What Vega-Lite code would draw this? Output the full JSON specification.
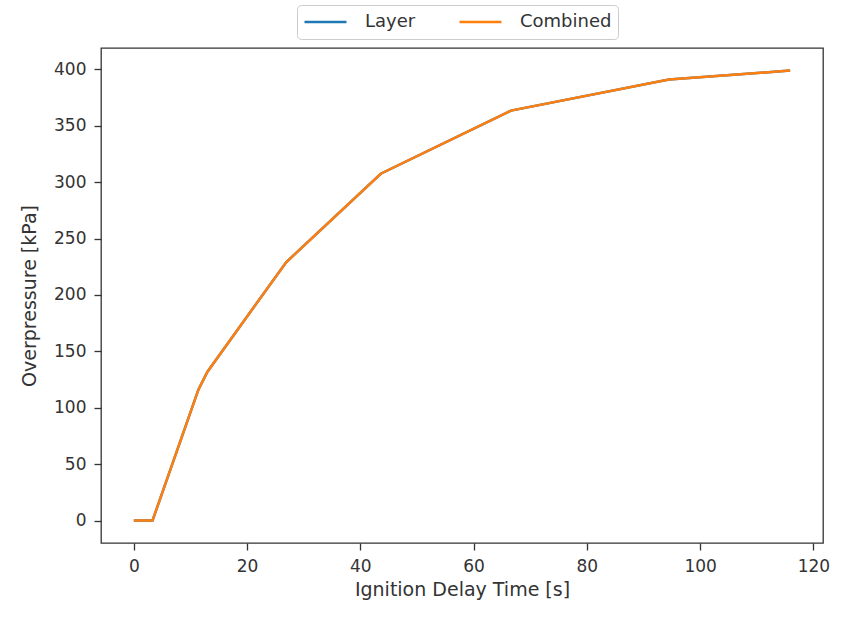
{
  "$schema": "https://vega.github.io/schema/vega-lite/v6.json",
  "width": 722,
  "height": 495,
  "autosize": "none",
  "padding": {"left": 101, "top": 48, "right": 22, "bottom": 77},
  "background": "white",
  "config": {
    "font": "DejaVu Sans",
    "view": {"stroke": "#333", "strokeWidth": 1.3},
    "axis": {
      "grid": false,
      "domain": false,
      "tickColor": "#333",
      "tickSize": 7,
      "tickWidth": 1.3,
      "labelColor": "#333",
      "labelFontSize": 17,
      "labelPadding": 8,
      "titleColor": "#333",
      "titleFontSize": 19,
      "titleFontWeight": "normal"
    }
  },
  "datasets": {
    "pts": [
      {"series": "Layer", "t": 0, "p": 0},
      {"series": "Layer", "t": 3.3, "p": 0},
      {"series": "Layer", "t": 11.4, "p": 116},
      {"series": "Layer", "t": 13, "p": 132},
      {"series": "Layer", "t": 26.9, "p": 229},
      {"series": "Layer", "t": 43.6, "p": 307.5},
      {"series": "Layer", "t": 66.6, "p": 363.5},
      {"series": "Layer", "t": 94.5, "p": 391},
      {"series": "Layer", "t": 115.9, "p": 399},
      {"series": "Combined", "t": 0, "p": 0},
      {"series": "Combined", "t": 3.3, "p": 0},
      {"series": "Combined", "t": 11.4, "p": 116},
      {"series": "Combined", "t": 13, "p": 132},
      {"series": "Combined", "t": 26.9, "p": 229},
      {"series": "Combined", "t": 43.6, "p": 307.5},
      {"series": "Combined", "t": 66.6, "p": 363.5},
      {"series": "Combined", "t": 94.5, "p": 391},
      {"series": "Combined", "t": 115.9, "p": 399}
    ]
  },
  "data": {"name": "pts"},
  "encoding": {
    "x": {
      "field": "t",
      "type": "quantitative",
      "scale": {"domain": [-5.8, 121.7], "nice": false, "zero": false},
      "axis": {"values": [0, 20, 40, 60, 80, 100, 120], "title": "Ignition Delay Time [s]", "titlePadding": 6}
    },
    "y": {
      "field": "p",
      "type": "quantitative",
      "scale": {"domain": [-19.95, 419], "nice": false, "zero": false},
      "axis": {"values": [0, 50, 100, 150, 200, 250, 300, 350, 400], "title": "Overpressure [kPa]", "titlePadding": 14}
    },
    "color": {
      "field": "series",
      "type": "nominal",
      "scale": {"domain": ["Layer", "Combined"], "range": ["#1f77b4", "#ff7f0e"]},
      "legend": {
        "title": null,
        "orient": "none",
        "legendX": 196,
        "legendY": -43,
        "direction": "horizontal",
        "columns": 2,
        "symbolType": "stroke",
        "symbolSize": 1764,
        "symbolStrokeWidth": 2.5,
        "clipHeight": 22,
        "labelFontSize": 18,
        "labelColor": "#333",
        "columnPadding": 42,
        "labelOffset": 17,
        "padding": 6,
        "strokeColor": "#ccc",
        "fillColor": "white",
        "cornerRadius": 4
      }
    }
  },
  "layer": [
    {
      "transform": [{"filter": "datum.series === 'Layer'"}],
      "mark": {"type": "line", "strokeWidth": 2.5}
    },
    {
      "transform": [{"filter": "datum.series === 'Combined'"}],
      "mark": {"type": "line", "strokeWidth": 2.5}
    }
  ]
}
